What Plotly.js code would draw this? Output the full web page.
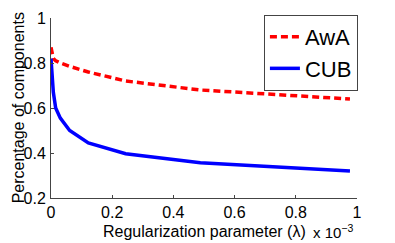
<!DOCTYPE html>
<html><head><meta charset="utf-8">
<script src="https://cdn.plot.ly/plotly-3.0.1.min.js"></script>
<style>html,body{margin:0;padding:0;background:#fff}#c{width:395px;height:243px}</style>
</head><body><div id="c"></div>
<script>
const lambda = [0, 0.0038, 0.0076, 0.0153, 0.0305, 0.061, 0.122, 0.244, 0.488, 0.977];
const awa = [0.87, 0.84, 0.82, 0.81, 0.80, 0.785, 0.76, 0.72, 0.68, 0.64];
const cub = [0.82, 0.72, 0.67, 0.60, 0.555, 0.50, 0.445, 0.397, 0.357, 0.32];
const xTicks = [0, 0.2, 0.4, 0.6, 0.8, 1];
const xTickText = ['0', '0.2', '0.4', '0.6', '0.8', '1'];
const yTicks = [0.2, 0.4, 0.6, 0.8, 1];
const yTickText = ['0.2', '0.4', '0.6', '0.8', '1'];

const font = 'Liberation Sans, Arial, Helvetica, sans-serif';
const data = [
  {x: lambda, y: awa, name: 'AwA', mode: 'lines', line: {color: '#ff0000', width: 3.5, dash: '7px,4px'}},
  {x: lambda, y: cub, name: 'CUB', mode: 'lines', line: {color: '#0000ff', width: 3.5}}
];
const layout = {
  width: 395, height: 243,
  margin: {l: 51, r: 38, t: 18, b: 45, pad: 0},
  paper_bgcolor: '#fff', plot_bgcolor: '#fff',
  font: {family: font, size: 16, color: '#000'},
  showlegend: true,
  legend: {x: 1.003, y: 1.017, xanchor: 'right', yanchor: 'top', bordercolor: '#444', borderwidth: 1,
           bgcolor: '#fff', font: {family: font, size: 22, color: '#000'}, tracegroupgap: 0},
  xaxis: {range: [0, 1], tickvals: xTicks, ticktext: xTickText, ticks: 'inside', ticklen: 3,
          tickcolor: '#444', showline: true, linecolor: '#444', linewidth: 1, showgrid: false,
          zeroline: false, tickfont: {size: 16}},
  yaxis: {range: [0.2, 1], tickvals: yTicks, ticktext: yTickText, ticks: 'inside', ticklen: 3,
          tickcolor: '#444', showline: true, linecolor: '#444', linewidth: 1, showgrid: false,
          zeroline: false, tickfont: {size: 16}, ticklabelstandoff: 1},
  annotations: [
    {text: 'Regularization parameter (λ)', xref: 'paper', yref: 'paper', x: 0.5, y: -0.13,
     xanchor: 'center', yanchor: 'top', showarrow: false, font: {size: 16}},
    {text: 'Percentage of components', xref: 'paper', yref: 'paper', x: -0.105, y: 0.503,
     xanchor: 'center', yanchor: 'middle', textangle: -90, showarrow: false, font: {size: 16}},
    {text: 'x 10<sup>−3</sup>', xref: 'paper', yref: 'paper', x: 0.995, y: -0.25,
     xanchor: 'right', yanchor: 'bottom', showarrow: false, font: {size: 15}}
  ]
};
Plotly.newPlot('c', data, layout, {displayModeBar: false, staticPlot: true});
</script></body></html>
